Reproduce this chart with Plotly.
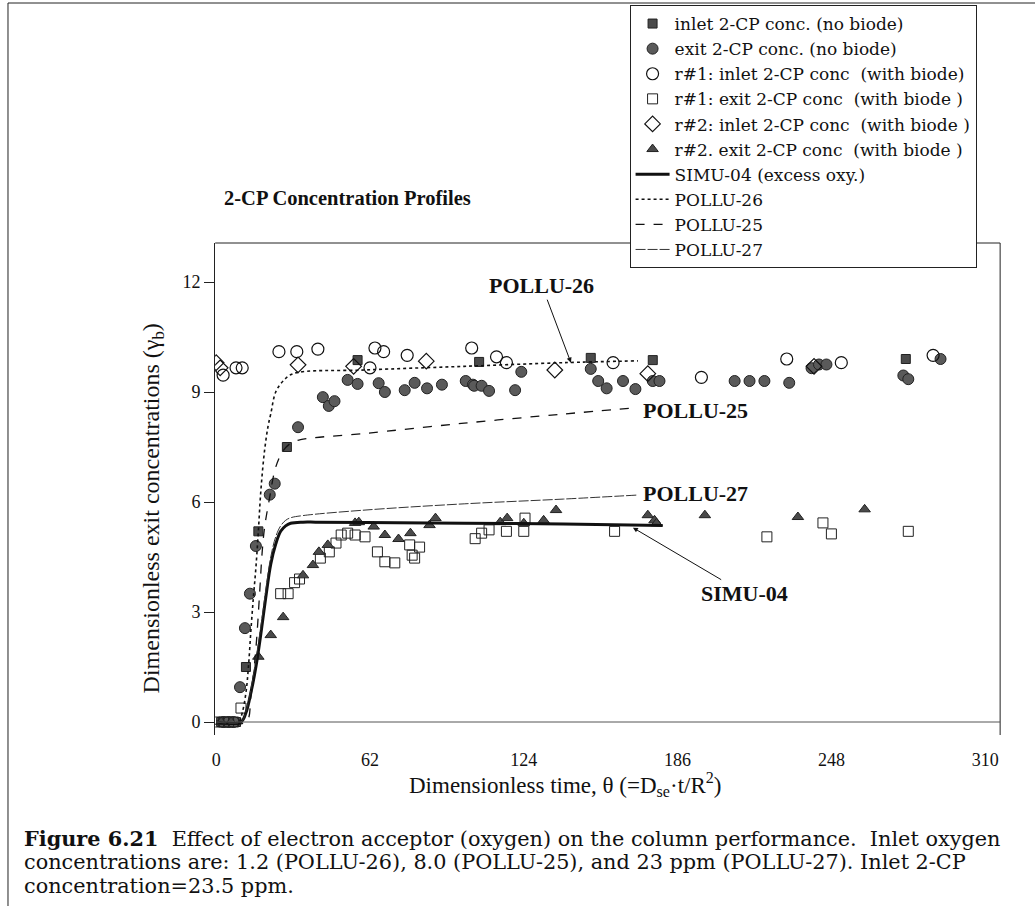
import plotly.graph_objects as go

SERIF = "Liberation Serif"
WIDE = "DejaVu Serif"
W, H = 1035, 906

# ---- measured data -------------------------------------------------------
# inlet 2-CP conc. (no biode)
inlet_nb_t = [2, 4, 6, 8, 12, 17, 28.5, 57, 106, 151, 176, 278]
inlet_nb_c = [0, 0, 0, 0, 1.5, 5.2, 7.5, 9.87, 9.82, 9.93, 9.87, 9.9]

# exit 2-CP conc. (no biode)
exit_nb_t = [3, 5, 7, 9.6, 11.6, 13.6, 16, 21.6, 23.6, 33, 43, 45.4, 47.7, 53, 57,
             65.5, 68, 76, 80, 85, 91, 100.6, 103.5, 104, 107, 110, 120.5, 123,
             151, 154, 157.4, 164, 169, 176, 178.7, 209, 215, 221, 231, 240, 243,
             246, 277, 279, 292]
exit_nb_c = [0, 0, 0, 0.95, 2.56, 3.5, 4.8, 6.2, 6.5, 8.04, 8.86, 8.62, 8.75, 9.33,
             9.22, 9.24, 9.0, 9.05, 9.25, 9.1, 9.2, 9.3, 9.2, 9.17, 9.17, 9.03, 9.05,
             9.55, 9.63, 9.3, 9.1, 9.3, 9.08, 9.3, 9.3, 9.3, 9.3, 9.3, 9.25, 9.65,
             9.75, 9.75, 9.45, 9.35, 9.9]

# r#1: inlet 2-CP conc (with biode)
r1_in_t = [2.8, 8, 10.5, 25.3, 32.5, 41, 62, 64, 67.5, 77, 103, 113, 117, 160,
           195.6, 230, 252, 289]
r1_in_c = [9.46, 9.66, 9.66, 10.1, 10.1, 10.17, 9.66, 10.2, 10.1, 10.0, 10.2, 9.96,
           9.8, 9.8, 9.4, 9.9, 9.8, 10.0]

# r#1: exit 2-CP conc (with biode)
r1_out_t = [1, 3, 5, 7, 10, 26, 29, 31.6, 33.6, 42, 45.6, 48.3, 50.4, 53, 56, 60,
            65, 68, 72, 78, 79, 80, 82, 104.4, 107, 110, 117, 124, 124.5, 160.6,
            222, 244.6, 248, 279]
r1_out_c = [0, 0, 0, 0, 0.38, 3.5, 3.5, 3.8, 3.9, 4.47, 4.64, 4.88, 5.1, 5.15, 5.1,
            5.05, 4.64, 4.37, 4.34, 4.83, 4.55, 4.47, 4.77, 5.0, 5.15, 5.24, 5.2,
            5.2, 5.56, 5.2, 5.05, 5.43, 5.13, 5.2]

# r#2: inlet 2-CP conc (with biode)
r2_in_t = [0, 1.6, 33, 55.4, 84.7, 136.5, 174, 241]
r2_in_c = [9.8, 9.66, 9.74, 9.7, 9.84, 9.6, 9.5, 9.7]

# r#2: exit 2-CP conc (with biode)
r2_out_t = [2, 6, 17, 22, 27, 35, 39, 41.4, 45, 56, 57.5, 63.5, 68, 73.5, 78.3, 86,
            88.4, 114.5, 117.3, 124, 132, 137, 174, 176.7, 177.5, 197, 234.5, 261.4]
r2_out_c = [0, 0, 1.78, 2.37, 2.86, 4.0, 4.28, 4.64, 4.83, 5.43, 5.45, 5.33, 5.1,
            4.99, 5.15, 5.37, 5.56, 5.45, 5.56, 5.42, 5.5, 5.78, 5.64, 5.5, 5.42,
            5.64, 5.59, 5.8]

# model curves
simu04_t = [0, 10, 12, 14, 16, 18, 20, 22, 24, 26, 28, 30, 35, 40, 60, 100, 140, 180]
simu04_c = [0, 0, 0.25, 0.8, 1.5, 2.4, 3.4, 4.3, 4.85, 5.2, 5.35, 5.42, 5.45, 5.45,
            5.44, 5.42, 5.4, 5.36]

pollu26_t = [0, 9, 10.5, 12, 13, 14, 15, 16, 17, 18, 19.5, 21, 22, 24, 27, 31, 60,
             100, 140, 170]
pollu26_c = [0, 0, 0.25, 0.8, 1.5, 2.5, 3.4, 4.2, 5.2, 6.3, 7.4, 8.1, 8.4, 9.0, 9.3,
             9.5, 9.6, 9.7, 9.8, 9.85]

pollu25_t = [0, 12, 14, 16, 17.5, 18.5, 19.5, 21.5, 24, 27, 30, 34, 60, 100, 140, 168]
pollu25_c = [0, 0, 0.7, 2.0, 3.5, 4.6, 5.3, 6.1, 6.95, 7.4, 7.6, 7.7, 7.87, 8.15,
             8.4, 8.56]

pollu27_t = [0, 10, 12, 14, 16, 18, 20, 22, 24, 26, 28, 30, 35, 60, 100, 140, 170]
pollu27_c = [0, 0, 0.3, 0.9, 1.7, 2.6, 3.6, 4.5, 5.05, 5.35, 5.5, 5.57, 5.63, 5.78,
             5.95, 6.08, 6.19]

x_ticks = [0, 62, 124, 186, 248, 310]
y_ticks = [0, 3, 6, 9, 12]

# ---- page geometry (pixels) ----------------------------------------------
PX_LEFT, PX_RIGHT = 212, 1000
PX_TOP, PX_BOTTOM = 243, 735
X0_PX, X_PER = 213, (985 - 213) / 310.0
Y0_PX, Y_PER = 722, (722 - 282) / 12.0

x_range = [(PX_LEFT - X0_PX) / X_PER, (PX_RIGHT - X0_PX) / X_PER]
y_range = [(Y0_PX - PX_BOTTOM) / Y_PER, (Y0_PX - PX_TOP) / Y_PER]


def px(x):
    return x / W


def py(y):
    return 1 - y / H


fig = go.Figure()

fill_dark = "#4a4a4a"
fig.add_trace(go.Scatter(x=inlet_nb_t, y=inlet_nb_c, mode="markers",
                         name="inlet 2-CP conc. (no biode)",
                         marker=dict(symbol="square", size=9, color=fill_dark,
                                     line=dict(color="#222", width=1))))
fig.add_trace(go.Scatter(x=exit_nb_t, y=exit_nb_c, mode="markers",
                         name="exit 2-CP conc. (no biode)",
                         marker=dict(symbol="circle", size=11, color="#5a5a5a",
                                     line=dict(color="#222", width=1))))
fig.add_trace(go.Scatter(x=r1_in_t, y=r1_in_c, mode="markers",
                         name="r#1: inlet 2-CP conc  (with biode)",
                         marker=dict(symbol="circle-open", size=12, color="#111",
                                     line=dict(width=1.2))))
fig.add_trace(go.Scatter(x=r1_out_t, y=r1_out_c, mode="markers",
                         name="r#1: exit 2-CP conc  (with biode )",
                         marker=dict(symbol="square-open", size=10, color="#222",
                                     line=dict(width=1))))
fig.add_trace(go.Scatter(x=r2_in_t, y=r2_in_c, mode="markers",
                         name="r#2: inlet 2-CP conc  (with biode )",
                         marker=dict(symbol="diamond-open", size=12, color="#111",
                                     line=dict(width=1.2))))
fig.add_trace(go.Scatter(x=r2_out_t, y=r2_out_c, mode="markers",
                         name="r#2. exit 2-CP conc  (with biode )",
                         marker=dict(symbol="triangle-up", size=10, color=fill_dark,
                                     line=dict(color="#222", width=1))))

fig.add_trace(go.Scatter(x=simu04_t, y=simu04_c, mode="lines",
                         name="SIMU-04 (excess oxy.)",
                         line=dict(color="#111", width=3, shape="spline")))
fig.add_trace(go.Scatter(x=pollu26_t, y=pollu26_c, mode="lines", name="POLLU-26",
                         line=dict(color="#111", width=1.6, dash="dot",
                                   shape="spline")))
fig.add_trace(go.Scatter(x=pollu25_t, y=pollu25_c, mode="lines", name="POLLU-25",
                         line=dict(color="#111", width=1.3, dash="dash",
                                   shape="spline")))
fig.add_trace(go.Scatter(x=pollu27_t, y=pollu27_c, mode="lines", name="POLLU-27",
                         line=dict(color="#333", width=1, dash="10px,2px",
                                   shape="spline")))

annotations = [
    # chart title
    dict(text="<b>2-CP Concentration Profiles</b>", x=px(345), y=py(198),
         font=dict(size=20.5)),
    # axis titles
    dict(text="Dimensionless exit concentrations (γ<sub>b</sub>)", x=px(150),
         y=py(508), textangle=-90, font=dict(size=24)),
    dict(text="Dimensionless time, θ (=D<sub>se</sub>·t/R<sup>2</sup>)", x=px(563),
         y=py(784), font=dict(size=23)),
    # caption
    dict(text="<b>Figure 6.21</b>  Effect of electron acceptor (oxygen) on the column "
              "performance.  Inlet oxygen", x=px(18), y=py(838), xanchor="left",
         font=dict(size=20.8, family=WIDE)),
    dict(text="concentrations are: 1.2 (POLLU-26), 8.0 (POLLU-25), and 23 ppm "
              "(POLLU-27). Inlet 2-CP", x=px(18), y=py(862), xanchor="left",
         font=dict(size=20.8, family=WIDE)),
    dict(text="concentration=23.5 ppm.", x=px(18), y=py(886), xanchor="left",
         font=dict(size=20.8, family=WIDE)),
    # curve labels
    dict(text="<b>POLLU-25</b>", x=px(694), y=py(410), font=dict(size=22)),
    dict(text="<b>POLLU-27</b>", x=px(694), y=py(493), font=dict(size=22)),
]
for a in annotations:
    a.setdefault("xref", "paper")
    a.setdefault("yref", "paper")
    a.setdefault("showarrow", False)
    a.setdefault("xanchor", "center")
    a.setdefault("yanchor", "middle")
    fig.add_annotation(**a)

# labels with leader arrows pointing at the model curves
fig.add_annotation(x=143, y=9.8, xref="x", yref="y", text="<b>POLLU-26</b>",
                   font=dict(size=22), showarrow=True, arrowhead=2, arrowsize=1,
                   arrowwidth=1, arrowcolor="#111", ax=-29, ay=-77)
fig.add_annotation(x=168, y=5.3, xref="x", yref="y", text="<b>SIMU-04</b>",
                   font=dict(size=22), showarrow=True, arrowhead=2, arrowsize=1,
                   arrowwidth=1, arrowcolor="#111", ax=112, ay=66)

shapes = [
    # plot frame: top and right edges
    dict(type="line", xref="paper", yref="paper", x0=px(PX_LEFT), x1=px(PX_RIGHT),
         y0=py(PX_TOP), y1=py(PX_TOP), line=dict(color="#222", width=1)),
    dict(type="line", xref="paper", yref="paper", x0=px(PX_RIGHT), x1=px(PX_RIGHT),
         y0=py(PX_TOP), y1=py(PX_BOTTOM), line=dict(color="#222", width=1)),
    # baseline at zero concentration
    dict(type="line", xref="x", yref="y", x0=0, x1=x_range[1], y0=0, y1=0,
         line=dict(color="#555", width=1)),
    # outer figure frame
    dict(type="line", xref="paper", yref="paper", x0=px(4), x1=1, y0=py(3), y1=py(3),
         line=dict(color="#222", width=1)),
    dict(type="line", xref="paper", yref="paper", x0=px(4), x1=px(4), y0=py(3), y1=0,
         line=dict(color="#222", width=1)),
]
for s in shapes:
    fig.add_shape(**s)

fig.update_layout(
    width=W, height=H,
    margin=dict(l=0, r=0, t=0, b=0),
    paper_bgcolor="white", plot_bgcolor="white",
    font=dict(family=SERIF, color="#111", size=16),
    showlegend=True,
    legend=dict(x=px(628), y=py(5), xanchor="left", yanchor="top",
                bgcolor="white", bordercolor="#222", borderwidth=1,
                font=dict(family=WIDE, size=17, color="#111"),
                tracegroupgap=0, itemwidth=34),
    xaxis=dict(domain=[px(PX_LEFT), px(PX_RIGHT)], range=x_range,
               tickvals=x_ticks, ticktext=[str(v) for v in x_ticks],
               showgrid=False, zeroline=False, showline=False, ticks="",
               ticklabelstandoff=12, tickfont=dict(size=18)),
    yaxis=dict(domain=[py(PX_BOTTOM), py(PX_TOP)], range=y_range,
               tickvals=y_ticks, ticktext=[str(v) for v in y_ticks],
               showgrid=False, zeroline=False, showline=True, linecolor="#222",
               linewidth=1, ticks="outside", ticklen=10, tickcolor="#222",
               tickfont=dict(size=18)),
)

fig.write_html("out.html")
